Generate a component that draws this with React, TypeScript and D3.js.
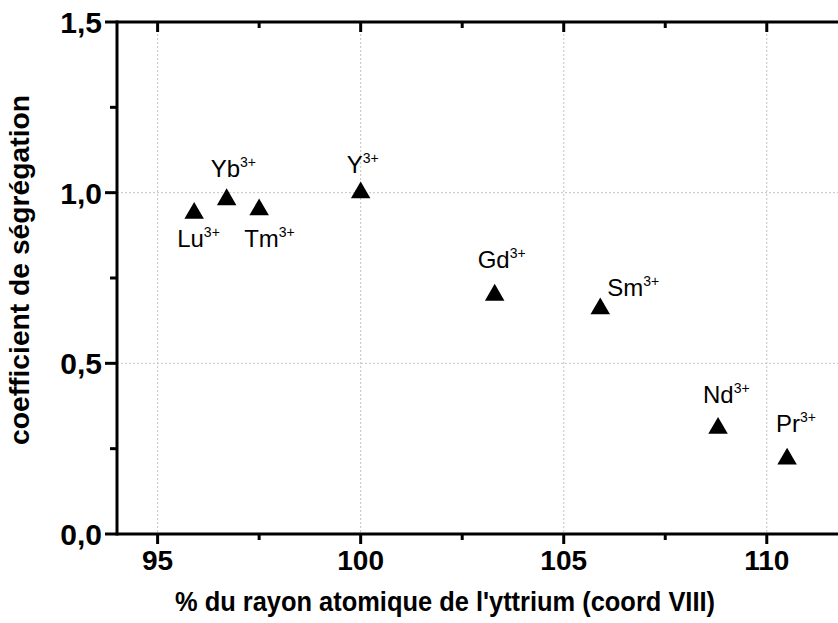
import React from 'react';
import * as d3 from 'd3';

// ions and measured segregation coefficients
const ions = ['Lu', 'Yb', 'Tm', 'Y', 'Gd', 'Sm', 'Nd', 'Pr'];
const radiusPct = [95.9, 96.7, 97.5, 100.0, 103.3, 105.9, 108.8, 110.5];
const segCoeff = [0.94, 0.98, 0.95, 1.0, 0.70, 0.66, 0.31, 0.22];

const xMajor = [95, 100, 105, 110];
const xMinor = [97.5, 102.5, 107.5];
const yMajor = [0, 0.5, 1.0, 1.5];
const yMinor = [0.25, 0.75, 1.25];
const yTickLabels = ['0,0', '0,5', '1,0', '1,5'];

// label placement relative to each marker (dx, dy)
const labelOffsets: [number, number][] = [
  [-17, 34], [-16, -22], [-15, 37], [-14, -20],
  [-17, -27], [7, -13], [-15, -25], [-11, -27],
];

const W = 838;
const H = 623;
const FONT = "'Liberation Sans', Arial, sans-serif";

export default function App() {
  const x = d3.scaleLinear().domain([94, 112]).range([117, 848]);
  const y = d3.scaleLinear().domain([0, 1.5]).range([534, 22]);
  const tri = d3.symbol().type(d3.symbolTriangle).size(165)();
  const [x0] = x.range();
  const [yb, yt] = y.range();

  return (
    <div style={{ position: 'absolute', left: 0, top: 0 }}>
      <svg width={W} height={H} style={{ display: 'block', background: '#fff' }}>
        {/* grid */}
        {xMajor.map((v) => (
          <line key={'gx' + v} x1={x(v)} x2={x(v)} y1={yt} y2={yb}
            stroke="#c4c4c4" strokeWidth={1} strokeDasharray="2,2" />
        ))}
        {yMajor.slice(1, 3).map((v) => (
          <line key={'gy' + v} x1={x0} x2={W} y1={y(v)} y2={y(v)}
            stroke="#c4c4c4" strokeWidth={1} strokeDasharray="2,2" />
        ))}

        {/* axes lines */}
        <line x1={x0} x2={W} y1={yb} y2={yb} stroke="#000" strokeWidth={3} />
        <line x1={x0} x2={W} y1={yt} y2={yt} stroke="#000" strokeWidth={3} />
        <line x1={x0} x2={x0} y1={yt - 1.5} y2={yb + 1.5} stroke="#000" strokeWidth={3} />

        {/* bottom ticks (outward) and top ticks (inward) */}
        {xMajor.map((v) => (
          <g key={'tx' + v}>
            <line x1={x(v)} x2={x(v)} y1={yb} y2={yb + 10} stroke="#000" strokeWidth={3} />
            <line x1={x(v)} x2={x(v)} y1={yt} y2={yt + 10} stroke="#000" strokeWidth={3} />
            <text x={x(v)} y={570} textAnchor="middle" fontFamily={FONT}
              fontWeight="bold" fontSize={28}>{v}</text>
          </g>
        ))}
        {xMinor.map((v) => (
          <g key={'mx' + v}>
            <line x1={x(v)} x2={x(v)} y1={yb} y2={yb + 6} stroke="#000" strokeWidth={3} />
            <line x1={x(v)} x2={x(v)} y1={yt} y2={yt + 6} stroke="#000" strokeWidth={3} />
          </g>
        ))}

        {/* left ticks */}
        {yMajor.map((v, i) => (
          <g key={'ty' + v}>
            <line x1={x0 - 12} x2={x0} y1={y(v)} y2={y(v)} stroke="#000" strokeWidth={3} />
            <text x={x0 - 15} y={y(v) + 11} textAnchor="end" fontFamily={FONT}
              fontWeight="bold" fontSize={30}>{yTickLabels[i]}</text>
          </g>
        ))}
        {yMinor.map((v) => (
          <line key={'my' + v} x1={x0 - 7} x2={x0} y1={y(v)} y2={y(v)} stroke="#000" strokeWidth={3} />
        ))}

        {/* axis titles */}
        <text x={445} y={611} textAnchor="middle" fontFamily={FONT} fontWeight="bold" fontSize={27}
          textLength={540} lengthAdjust="spacingAndGlyphs">
          % du rayon atomique de l'yttrium (coord VIII)
        </text>
        <text transform={`translate(29, 270) rotate(-90)`} textAnchor="middle"
          fontFamily={FONT} fontWeight="bold" fontSize={27}
          textLength={350} lengthAdjust="spacingAndGlyphs">
          coefficient de ségrégation
        </text>

        {/* markers and labels */}
        {ions.map((ion, i) => {
          const cx = x(radiusPct[i]);
          const cy = y(segCoeff[i]);
          const [dx, dy] = labelOffsets[i];
          return (
            <g key={ion}>
              <path d={tri || ''} transform={`translate(${cx},${cy})`} fill="#000" />
              <text x={cx + dx} y={cy + dy} fontFamily={FONT} fontSize={24}>
                {ion}
                <tspan fontSize={14} dy={-10}>3+</tspan>
              </text>
            </g>
          );
        })}
      </svg>
    </div>
  );
}
